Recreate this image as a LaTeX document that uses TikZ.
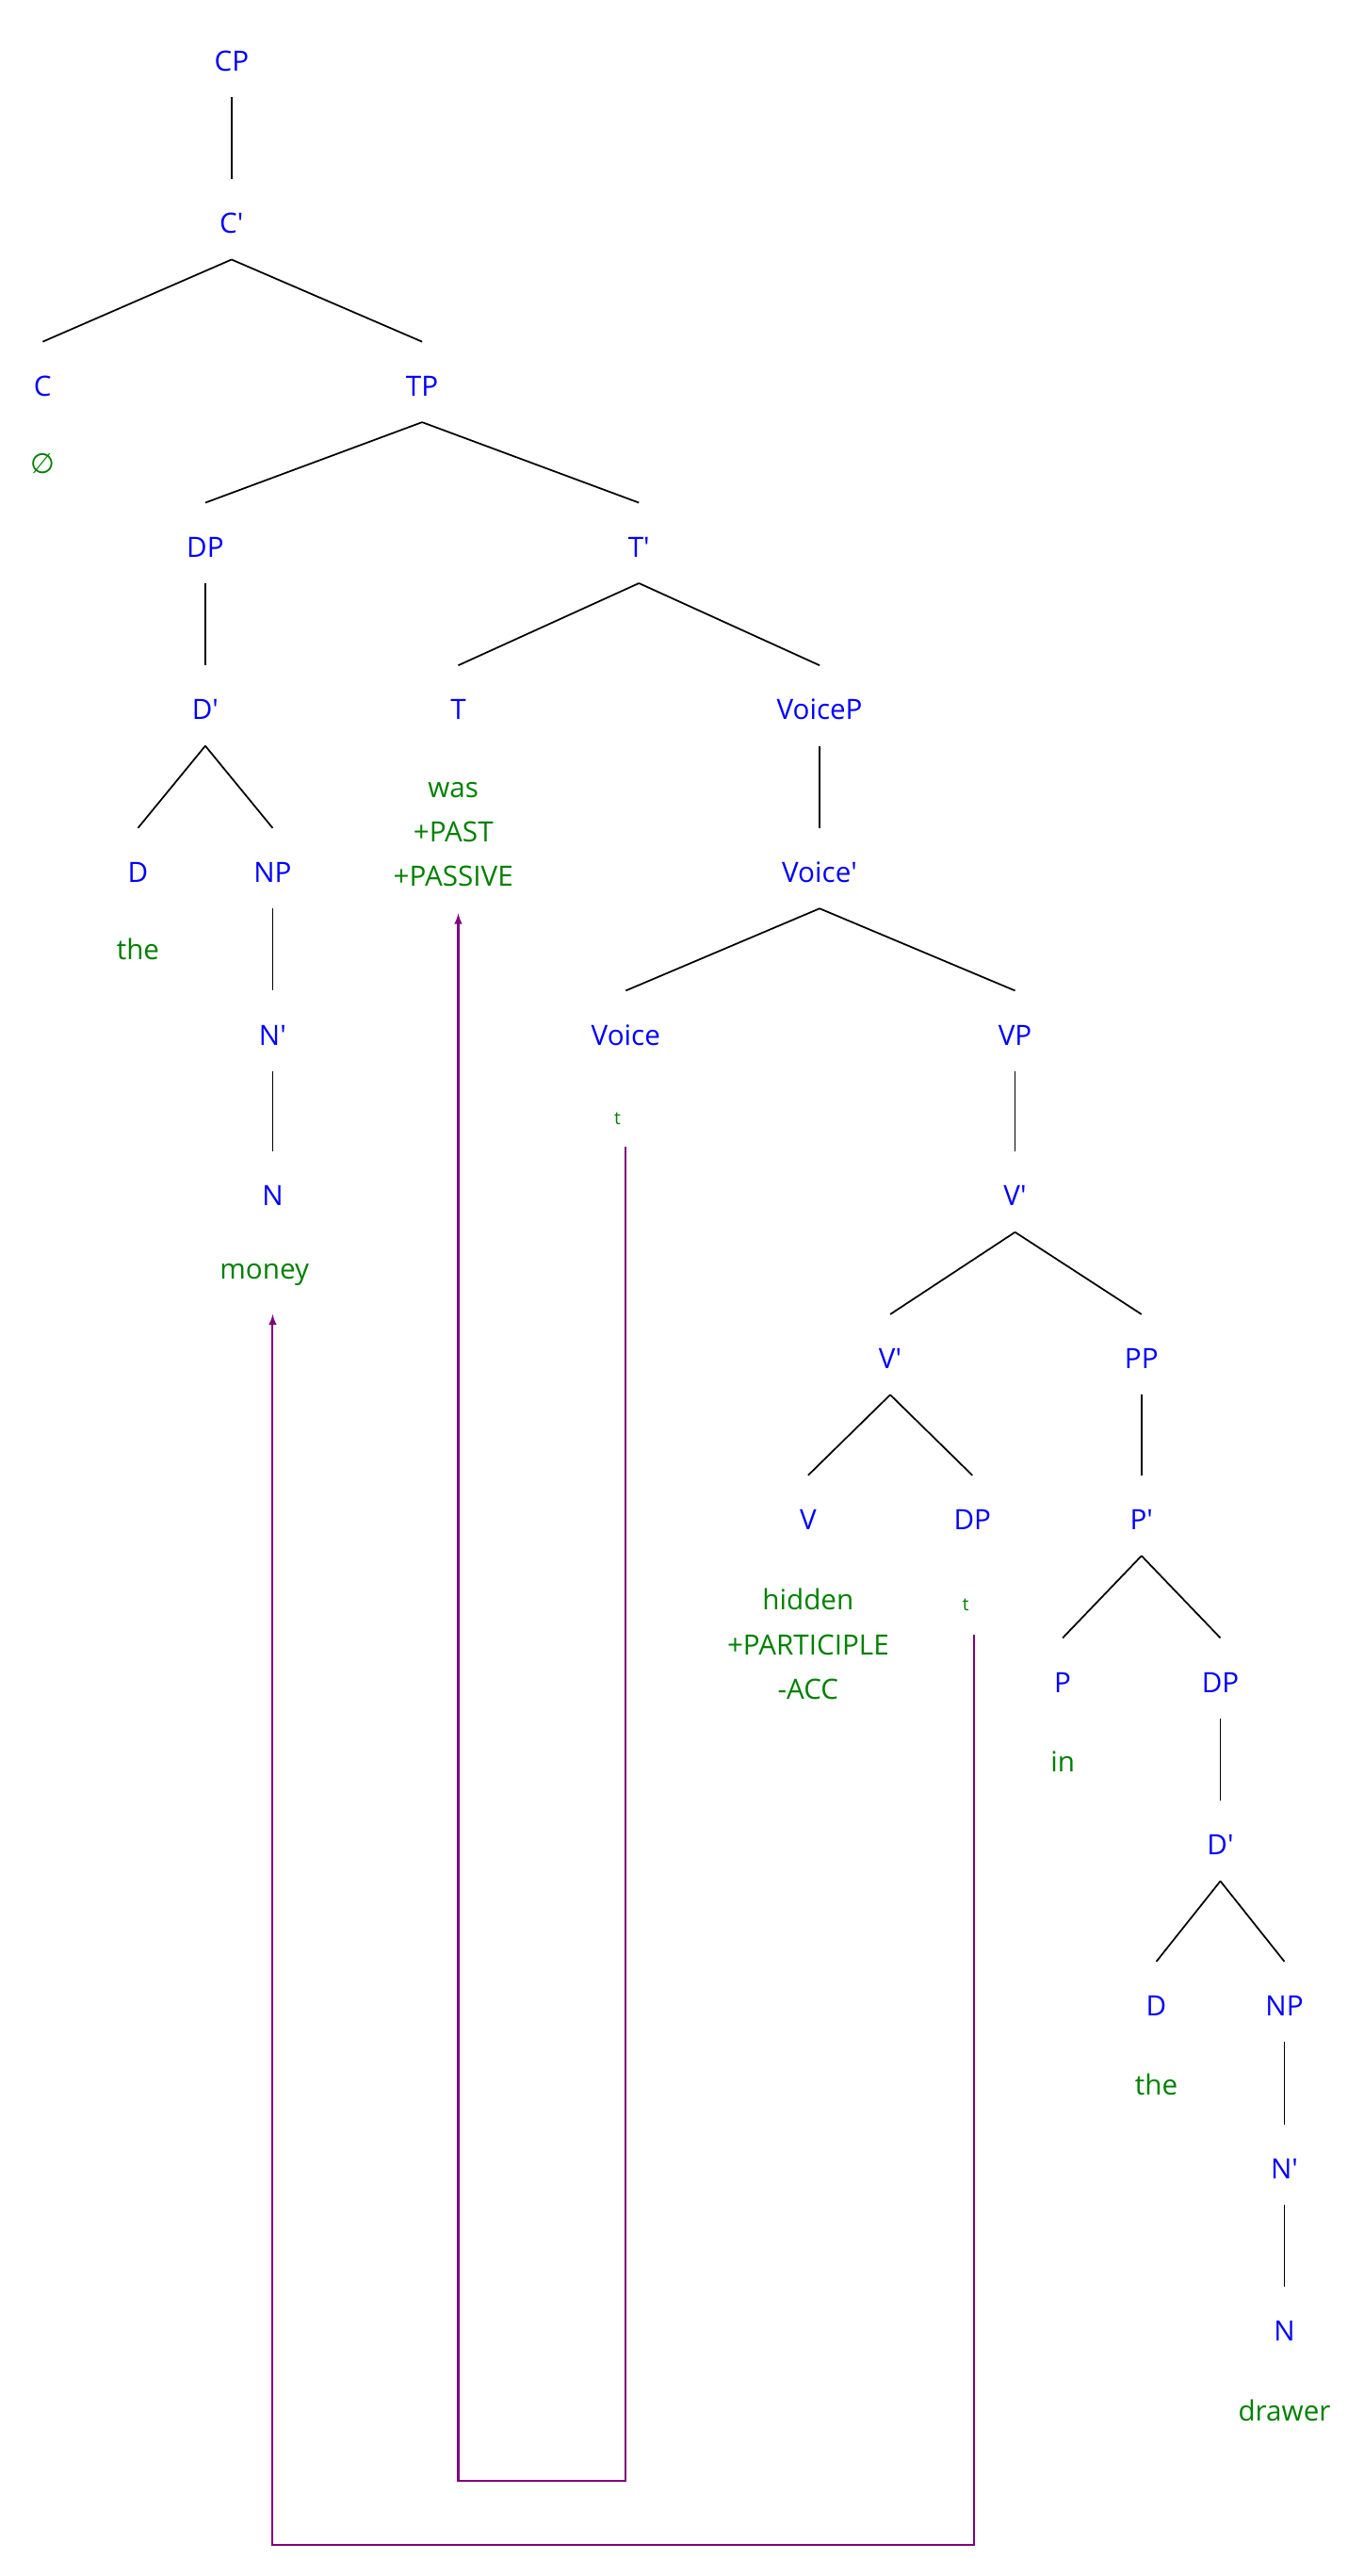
\documentclass[tikz,border=0pt]{standalone}
\usepackage{fontspec}
\setmainfont{Open Sans}
\newfontfamily\symfont{DejaVu Sans}
\usetikzlibrary{calc}
\definecolor{lab}{RGB}{0,0,255}
\definecolor{wd}{RGB}{0,128,0}
\definecolor{mv}{RGB}{128,0,128}
\newcommand\pr{\textquotesingle}
\begin{document}
\begin{tikzpicture}[x=1pt,y=-1pt,
  cat/.style={text=lab,font=\fontsize{17}{27}\selectfont,inner sep=0pt},
  word/.style={text=wd,font=\fontsize{17}{27}\selectfont,inner sep=0pt,align=center},
  trace/.style={text=wd,font=\fontsize{11}{13}\selectfont,inner sep=0pt},
  mov/.style={draw=mv,line width=1.2pt,-latex}]
\useasboundingbox (0,0) rectangle (830,1568);
\newcommand\br[2]{\draw[black,line width=1pt] ($(#1)+(0,22)$) -- ($(#2)+(0,-27)$);}
\node[cat] (cp) at (141,37) {CP};
\node[cat] (c1) at (141,136) {C\pr};
\node[cat] (c) at (26,235) {C};
\node[cat] (tp) at (257,235) {TP};
\node[word] (null) at (26,282) {\symfont ∅};
\node[cat] (dp) at (125,333) {DP};
\node[cat] (t1) at (389,333) {T\pr};
\node[cat] (d1) at (125,432) {D\pr};
\node[cat] (t) at (279,432) {T};
\node[cat] (vp0) at (499,432) {VoiceP};
\node[cat] (d) at (84,531) {D};
\node[cat] (np) at (166,531) {NP};
\node[word,anchor=north] (was) at (276,476) {was\\+PAST\\+PASSIVE};
\node[cat] (vc1) at (499,531) {Voice\pr};
\node[word] (the) at (84,578) {the};
\node[cat] (n1) at (166,630) {N\pr};
\node[cat] (vc) at (381,630) {Voice};
\node[cat] (vp) at (618,630) {VP};
\node[trace] (tv) at (376,681) {t};
\node[cat] (n) at (166,728) {N};
\node[cat] (v1) at (618,728) {V\pr};
\node[word] (money) at (161,776) {money};
\node[cat] (v2) at (542,827) {V\pr};
\node[cat] (pp) at (695,827) {PP};
\node[cat] (v) at (492,925) {V};
\node[cat] (dp2) at (592,925) {DP};
\node[cat] (p1) at (695,925) {P\pr};
\node[word,anchor=north] (hid) at (492,967) {hidden\\+PARTICIPLE\\-ACC};
\node[trace] (td) at (588,977) {t};
\node[cat] (p) at (647,1024) {P};
\node[cat] (dp3) at (743,1024) {DP};
\node[word] (in) at (647,1072) {in};
\node[cat] (d3) at (743,1123) {D\pr};
\node[cat] (dd) at (704,1221) {D};
\node[cat] (np3) at (782,1221) {NP};
\node[word] (the2) at (704,1269) {the};
\node[cat] (n3) at (782,1320) {N\pr};
\node[cat] (nn) at (782,1419) {N};
\node[word] (drawer) at (782,1467) {drawer};
\br{cp}{c1}\br{c1}{c}\br{c1}{tp}\br{tp}{dp}\br{tp}{t1}\br{dp}{d1}\br{t1}{t}\br{t1}{vp0}
\br{d1}{d}\br{d1}{np}\br{vp0}{vc1}\br{np}{n1}\br{vc1}{vc}\br{vc1}{vp}\br{n1}{n}\br{vp}{v1}
\br{v1}{v2}\br{v1}{pp}\br{v2}{v}\br{v2}{dp2}\br{pp}{p1}\br{p1}{p}\br{p1}{dp3}\br{dp3}{d3}
\br{d3}{dd}\br{d3}{np3}\br{np3}{n3}\br{n3}{nn}
\coordinate (a1) at (381,698);
\coordinate (a2) at (593,995);
\draw[mov] (a1) -- (381,1510) -- (279,1510) -- (279,556);
\draw[mov] (a2) -- (593,1549) -- (166,1549) -- (166,800);
\end{tikzpicture}
\end{document}
